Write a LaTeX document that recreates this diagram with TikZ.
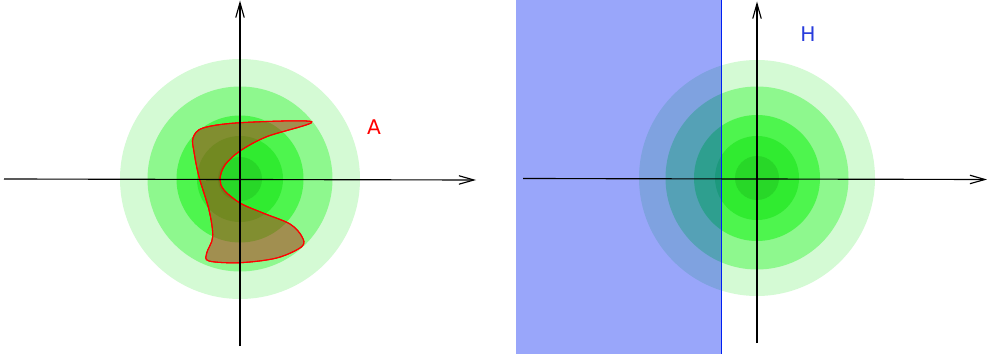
\documentclass[tikz,border=0pt]{standalone}
\usepackage{fontspec}
\setsansfont{DejaVu Sans}
\usetikzlibrary{arrows.meta}
\definecolor{ringA}{RGB}{212,250,212}
\definecolor{ringB}{RGB}{142,248,142}
\definecolor{ringC}{RGB}{78,245,78}
\definecolor{ringD}{RGB}{48,235,48}
\definecolor{ringE}{RGB}{40,215,40}
\definecolor{blobfill}{RGB}{180,40,20}
\definecolor{halfplane}{RGB}{0,32,242}
\definecolor{labelblue}{RGB}{40,60,220}
\tikzset{
    plane diagram/.style = {x=0.02cm, y=-0.02cm,
                            >={Straight Barb[length=3mm, width=1.7mm]}},
    axis/.style          = {->, line width=0.65pt},
    ring/.style          = {draw=none},
    blob/.style          = {draw=red, line width=0.6pt, fill=blobfill,
                            fill opacity=0.5},
    region/.style        = {fill=halfplane, fill opacity=0.4, draw=none},
    edge line/.style     = {draw=halfplane, line width=0.6pt},
    tag/.style           = {font=\sffamily\fontsize{11.5}{14}\selectfont,
                            inner sep=0pt}
}

\begin{document}
\begin{tikzpicture}[plane diagram]
\useasboundingbox (0,0) rectangle (987,358);

% Left panel: level sets of a Gaussian and a curved set A.
\coordinate (left-c) at (240,179);
\foreach \r/\shade in {120/ringA,92.5/ringB,63.5/ringC,43/ringD,22/ringE}
    \fill[ring, \shade] (left-c) circle[radius=\r];

\fill[blob] plot[smooth cycle, tension=0.55] coordinates {
    (311.7,121.7) (240,122.7) (203,128) (193,138) (194,152)
    (199,177) (209,210) (212.7,236.7) (206.7,253) (209,261)
    (240,262.7) (276.7,258) (301.7,246.7) (302,236.7) (290,224)
    (263,213) (240,203) (224,190) (220,179) (225,165)
    (240,151) (266.7,136.7)};
\draw[blob, fill=none] plot[smooth cycle, tension=0.55] coordinates {
    (311.7,121.7) (240,122.7) (203,128) (193,138) (194,152)
    (199,177) (209,210) (212.7,236.7) (206.7,253) (209,261)
    (240,262.7) (276.7,258) (301.7,246.7) (302,236.7) (290,224)
    (263,213) (240,203) (224,190) (220,179) (225,165)
    (240,151) (266.7,136.7)};

\coordinate (left-x0) at (4,179);
\coordinate (left-x1) at (476,180);
\coordinate (left-y0) at (240,346);
\coordinate (left-y1) at (240,0.5);
\draw[axis] (left-x0) -- (left-x1);
\draw[axis] (left-y0) -- (left-y1);
\node[tag, text=red] (label-A) at (374,127) {A};

% Right panel: the same levels cut by a half-plane H.
\coordinate (right-c) at (757,178);
\foreach \r/\shade in {118/ringA,91.5/ringB,63/ringC,42/ringD,22/ringE}
    \fill[ring, \shade] (right-c) circle[radius=\r];

\coordinate (half-tl) at (516,0);
\coordinate (half-br) at (721.5,353.5);
\fill[region] (half-tl) rectangle (half-br);
\draw[edge line] (half-br) -- (half-br |- half-tl);

\coordinate (right-x0) at (523,178.5);
\coordinate (right-x1) at (987,179.5);
\coordinate (right-y0) at (757,343);
\coordinate (right-y1) at (757,1.5);
\draw[axis] (right-x0) -- (right-x1);
\draw[axis] (right-y0) -- (right-y1);
\node[tag, text=labelblue] (label-H) at (808,34) {H};

\end{tikzpicture}
\end{document}
